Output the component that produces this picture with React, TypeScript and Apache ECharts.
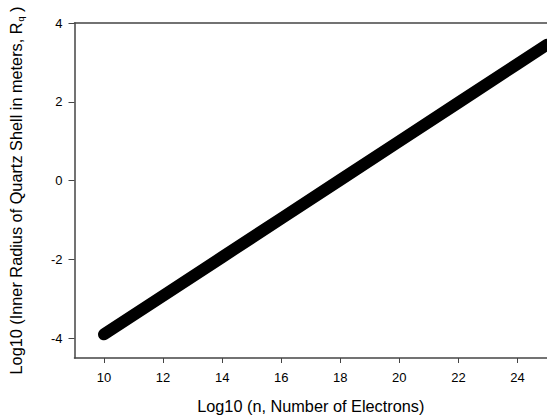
import React, { useEffect, useRef } from "react";
import * as echarts from "echarts";

const xValues = [10, 12, 14, 16, 18, 20, 22, 24, 25];
const yValues = [-3.9, -2.92, -1.94, -0.96, 0.02, 1.0, 1.98, 2.96, 3.45];
const xTicks = [10, 12, 14, 16, 18, 20, 22, 24];
const yTicks = [-4, -2, 0, 2, 4];

export default function App() {
  const ref = useRef<HTMLDivElement>(null);
  useEffect(() => {
    const chart = echarts.init(ref.current!, null, { renderer: "svg" });
    const axisColor = "#444";
    const font = "Liberation Sans, Arial, sans-serif";
    chart.setOption({
      animation: false,
      backgroundColor: "#fff",
      grid: { left: 69, top: 23, width: 479, height: 339 },
      xAxis: [
        {
          type: "value",
          min: 9,
          max: 25,
          name: "Log10 (n, Number of Electrons)",
          nameLocation: "middle",
          nameGap: 40,
          nameTextStyle: { fontSize: 16.3, color: "#000", fontFamily: font },
          axisLine: { show: true, onZero: false, lineStyle: { color: axisColor, width: 1.5 } },
          axisTick: { show: true, customValues: xTicks, length: 5, lineStyle: { color: axisColor } },
          axisLabel: { customValues: xTicks, fontSize: 13, color: "#000", fontFamily: font, margin: 13 },
          splitLine: { show: false },
        },
        {
          type: "value",
          position: "top",
          min: 9,
          max: 25,
          axisLine: { show: true, onZero: false, lineStyle: { color: axisColor, width: 1.5 } },
          axisTick: { show: false },
          axisLabel: { show: false },
          splitLine: { show: false },
        },
      ],
      yAxis: {
        type: "value",
        min: -4.5,
        max: 4,
        name: "{t|Log10 (Inner Radius of Quartz Shell in meters, R}{s|q}{t| )}",
        nameLocation: "middle",
        nameGap: 49,
        nameTextStyle: {
          fontFamily: font,
          color: "#000",
          rich: {
            t: { fontSize: 16.3, fontFamily: font, color: "#000" },
            s: { fontSize: 9, fontFamily: font, color: "#000", verticalAlign: "bottom", padding: [10, 0, 0, 1] },
          },
        },
        axisLine: { show: true, onZero: false, lineStyle: { color: axisColor, width: 1.5 } },
        axisTick: { show: true, customValues: yTicks, length: 6, lineStyle: { color: axisColor } },
        axisLabel: { customValues: yTicks, fontSize: 13, color: "#000", fontFamily: font, margin: 12 },
        splitLine: { show: false },
      },
      series: [
        {
          type: "line",
          data: xValues.map((x, i) => [x, yValues[i]]),
          showSymbol: false,
          symbol: "none",
          clip: false,
          lineStyle: { color: "#000", width: 12, cap: "round", join: "round" },
        },
      ],
    });
    return () => chart.dispose();
  }, []);
  return <div ref={ref} style={{ width: 547, height: 419, position: "absolute", left: 0, top: 0 }} />;
}
